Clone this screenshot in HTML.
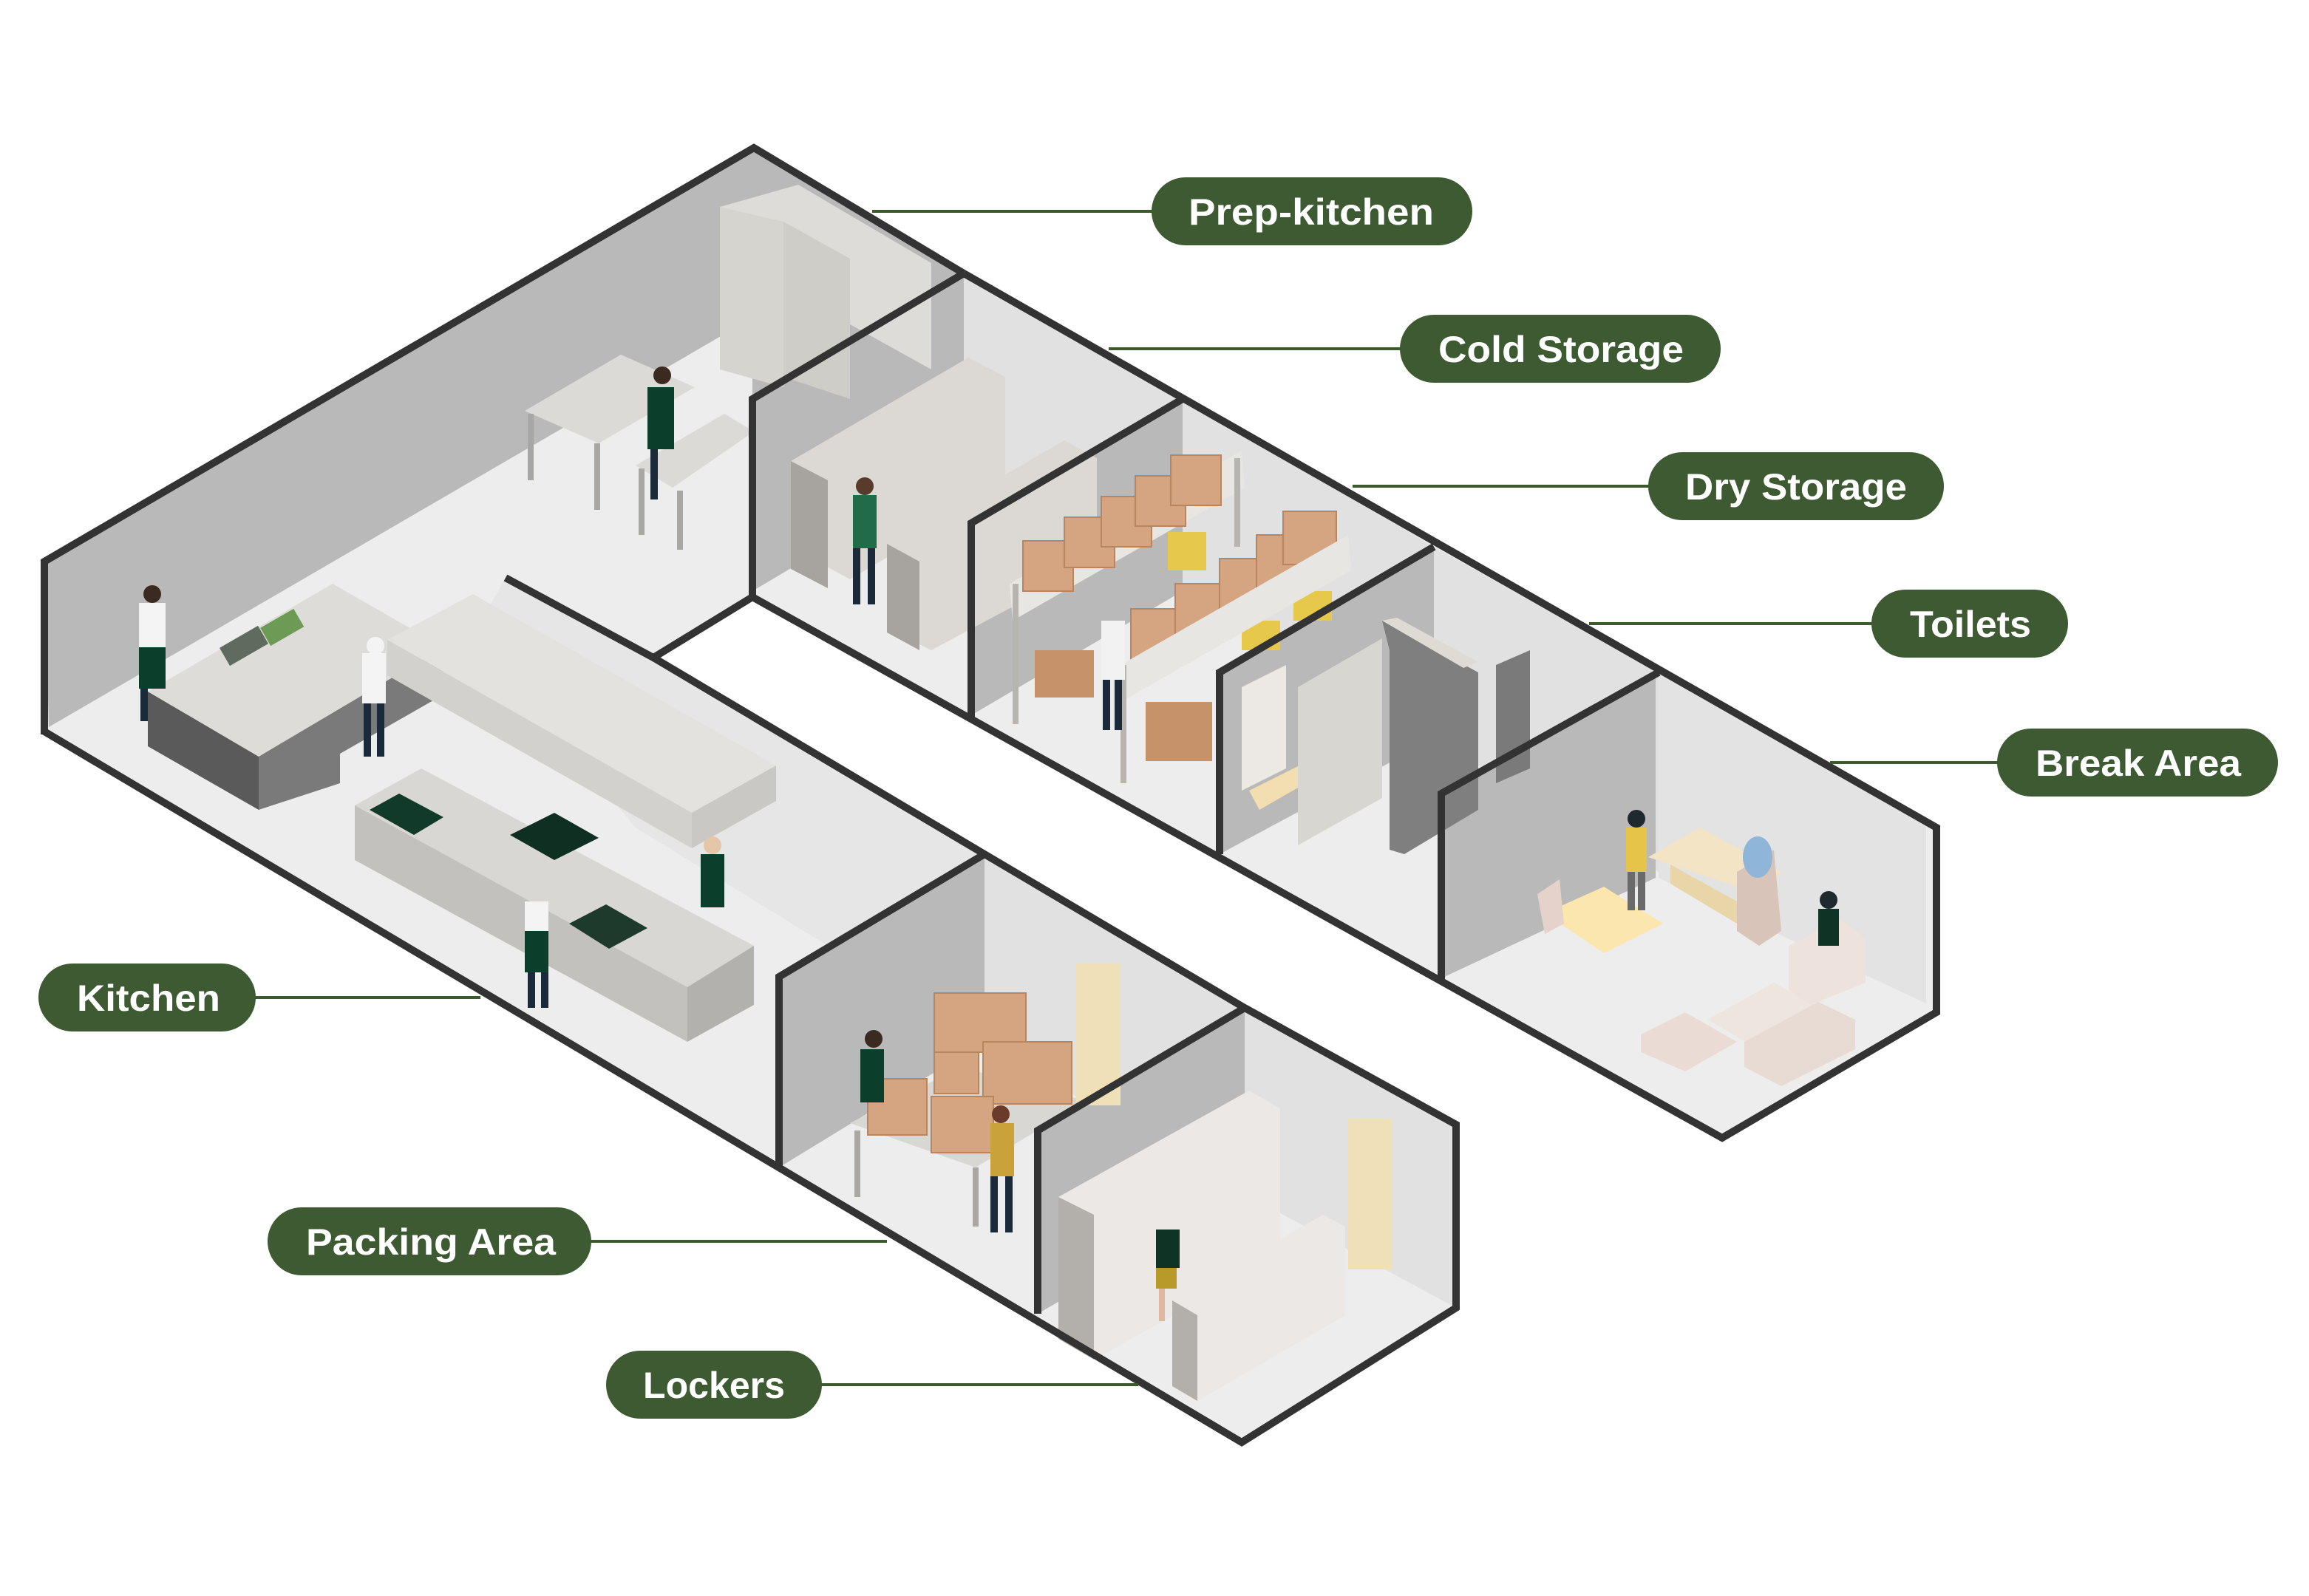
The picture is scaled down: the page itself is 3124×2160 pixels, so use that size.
<!DOCTYPE html>
<html><head><meta charset="utf-8"><style>
html,body{margin:0;padding:0;background:#fff;}
svg{display:block;}
.lbl{font-family:"Liberation Sans",sans-serif;font-weight:bold;font-size:25px;fill:#fff;}
</style></head><body>
<svg width="3124" height="2160" viewBox="0 0 1562 1080" xmlns="http://www.w3.org/2000/svg">
<rect width="1562" height="1080" fill="#fff"/>

<!-- ===== Kitchen wing ===== -->
<polygon points="30,380 510,100 652,185 509,270 509,404 442,445 666,578 842,682 985,761 985,885 840,976 30,495" fill="#ededed"/>
<polygon points="30,380 510,100 652,185 509,270 509,215 33,492" fill="#b9b9b9"/>
<polygon points="342,391 442,445 666,578 560,640 430,560 320,430" fill="#e6e6e6"/>
<polygon points="666,578 842,682 842,810 666,705" fill="#e1e1e1"/>
<polygon points="527,661 666,578 666,705 527,790" fill="#b9b9b9"/>
<polygon points="842,682 985,761 985,885 842,808" fill="#e1e1e1"/>
<polygon points="702,765 842,682 842,808 702,889" fill="#b9b9b9"/>

<!-- ===== Cold wing ===== -->
<polygon points="509,404 509,270 652,185 1310,560 1310,685 1165,770" fill="#ededed"/>
<polygon points="652,185 800,270 800,400 652,315" fill="#e1e1e1"/>
<polygon points="509,270 652,185 652,315 509,400" fill="#b9b9b9"/>
<polygon points="800,270 970,370 970,495 800,400" fill="#e1e1e1"/>
<polygon points="657,354 800,270 800,400 657,484" fill="#b9b9b9"/>
<polygon points="970,370 1122,455 1122,590 970,500" fill="#e1e1e1"/>
<polygon points="825,455 970,370 970,500 825,578" fill="#b9b9b9"/>
<polygon points="1122,455 1303,559 1303,679 1122,594" fill="#e3e3e3"/>
<polygon points="975,537 1120,455 1120,594 975,662" fill="#b9b9b9"/>

<!-- ===== Furniture ===== -->
<!-- prep fridges -->
<polygon points="487,140 540,125 630,178 630,250 540,200 487,215" fill="#dedcd8"/>
<polygon points="487,140 487,250 530,262 530,150" fill="#d6d4cf"/>
<polygon points="530,150 575,175 575,270 530,255" fill="#cfcdc8"/>
<!-- sinks & tables -->
<polygon points="355,278 420,240 470,262 405,300" fill="#dcdad6"/>
<rect x="357" y="280" width="4" height="45" fill="#a9a7a3"/><rect x="402" y="300" width="4" height="45" fill="#a9a7a3"/>
<polygon points="430,315 490,280 510,292 455,330" fill="#dcdad6"/>
<rect x="432" y="317" width="4" height="45" fill="#a9a7a3"/><rect x="458" y="332" width="4" height="40" fill="#a9a7a3"/>
<rect x="438" y="262" width="18" height="42" fill="#0b3f2c"/><circle cx="448" cy="254" r="6" fill="#3b2a20"/><rect x="440" y="304" width="5" height="34" fill="#1b2a3a"/>
<!-- kitchen counter -->
<polygon points="100,468 225,395 300,438 175,512" fill="#dedcd8"/>
<polygon points="100,468 175,512 175,548 100,505" fill="#5a5a5a"/>
<polygon points="175,512 300,438 300,470 230,510 230,530 175,548" fill="#7a7a7a"/>
<rect x="150" y="430" width="30" height="14" fill="#5f6b5e" transform="rotate(-30 165 437)"/>
<rect x="178" y="418" width="26" height="14" fill="#6d9a55" transform="rotate(-30 190 425)"/>
<rect x="94" y="408" width="18" height="30" fill="#f4f4f4"/><rect x="94" y="438" width="18" height="28" fill="#0b3f2c"/><circle cx="103" cy="402" r="6" fill="#3b2a20"/><rect x="95" y="466" width="5" height="22" fill="#1b2a3a"/>
<rect x="245" y="442" width="16" height="34" fill="#f4f4f4"/><circle cx="254" cy="437" r="6" fill="#f4f4f4"/><rect x="246" y="476" width="5" height="36" fill="#1b2a3a"/><rect x="255" y="476" width="5" height="36" fill="#1b2a3a"/>
<!-- hood -->
<polygon points="262,433 320,402 525,518 468,550" fill="#e3e2df"/>
<polygon points="262,433 468,550 468,574 262,457" fill="#d2d1cd"/>
<polygon points="468,550 525,518 525,542 468,574" fill="#c9c8c4"/>
<!-- cooking line -->
<polygon points="240,545 285,520 510,640 465,668" fill="#d8d7d3"/>
<polygon points="240,545 465,668 465,705 240,582" fill="#c2c1bd"/>
<polygon points="465,668 510,640 510,680 465,705" fill="#b2b1ad"/>
<polygon points="250,548 270,537 300,553 280,565" fill="#123a2a"/>
<polygon points="345,565 375,550 405,567 375,582" fill="#0f2f22"/>
<polygon points="385,625 410,612 438,628 412,642" fill="#1e3a2c"/>
<rect x="355" y="610" width="16" height="30" fill="#f4f4f4"/><rect x="355" y="630" width="16" height="28" fill="#0b3f2c"/><rect x="357" y="658" width="5" height="24" fill="#1b2a3a"/><rect x="366" y="658" width="5" height="24" fill="#1b2a3a"/>
<rect x="474" y="578" width="16" height="36" fill="#0b3f2c"/><circle cx="482" cy="572" r="6" fill="#e6c6a8"/>
<!-- cold storage fridges -->
<polygon points="535,312 655,242 680,255 680,330 575,392 535,370" fill="#dcd8d4"/>
<polygon points="535,312 560,325 560,398 535,385" fill="#a7a39e"/>
<polygon points="600,368 720,298 742,310 742,380 630,440 600,425" fill="#dcd8d4"/>
<polygon points="600,368 622,380 622,440 600,428" fill="#a7a39e"/>
<rect x="577" y="335" width="16" height="36" fill="#226b48"/><circle cx="585" cy="329" r="6" fill="#5a3a2a"/><rect x="577" y="371" width="5" height="38" fill="#1b2a3a"/><rect x="587" y="371" width="5" height="38" fill="#1b2a3a"/>
<!-- dry storage -->
<polygon points="683,395 840,305 842,330 685,420" fill="#e8e6e3"/>
<rect x="685" y="395" width="4" height="95" fill="#b8b5b0"/><rect x="835" y="310" width="4" height="60" fill="#b8b5b0"/>
<g fill="#d4a580" stroke="#b9855e" stroke-width="1">
<rect x="692" y="366" width="34" height="34"/><rect x="720" y="350" width="34" height="34"/><rect x="745" y="336" width="34" height="34"/><rect x="768" y="322" width="34" height="34"/><rect x="792" y="308" width="34" height="34"/>
<rect x="765" y="412" width="38" height="36"/><rect x="795" y="395" width="38" height="36"/><rect x="825" y="378" width="38" height="36"/><rect x="850" y="362" width="38" height="36"/><rect x="868" y="346" width="36" height="36"/>
</g>
<g fill="#e6c84a"><rect x="790" y="360" width="26" height="26"/><rect x="840" y="420" width="26" height="20"/><rect x="875" y="400" width="26" height="20"/></g>
<polygon points="758,450 912,362 914,386 760,474" fill="#e8e6e3"/>
<rect x="758" y="450" width="4" height="80" fill="#b8b5b0"/>
<rect x="775" y="475" width="45" height="40" fill="#c6926a"/><rect x="700" y="440" width="40" height="32" fill="#c6926a"/>
<rect x="745" y="420" width="16" height="40" fill="#f2f2f2"/><rect x="746" y="460" width="5" height="34" fill="#1b2a3a"/><rect x="754" y="460" width="5" height="34" fill="#1b2a3a"/>
<!-- toilets -->
<polygon points="840,465 870,450 870,520 840,535" fill="#ece8e4"/>
<polygon points="845,535 885,515 892,525 852,548" fill="#f2deb0"/>
<polygon points="878,465 935,432 935,540 878,572" fill="#d8d6d0"/>
<polygon points="935,420 1000,455 1000,548 950,578 940,575 940,440" fill="#7f7f7f"/>
<polygon points="935,420 990,452 1000,448 945,418" fill="#dedbd5"/>
<polygon points="1012,450 1035,440 1035,520 1012,530" fill="#7a7a7a"/>
<!-- break -->
<polygon points="1045,618 1085,600 1125,625 1085,645" fill="#fbe6ae"/>
<polygon points="1115,580 1150,560 1205,590 1190,605" fill="#f3e4c6"/>
<polygon points="1130,585 1175,610 1175,625 1130,598" fill="#e9d6a8"/>
<polygon points="1175,590 1200,575 1205,630 1190,640 1175,630" fill="#d8c4b8"/>
<ellipse cx="1189" cy="580" rx="10" ry="14" fill="#8fb6d8"/>
<rect x="1100" y="560" width="14" height="30" fill="#e6c44a"/><rect x="1101" y="590" width="5" height="26" fill="#6a6a6a"/><rect x="1108" y="590" width="5" height="26" fill="#6a6a6a"/><circle cx="1107" cy="554" r="6" fill="#1e2a2e"/>
<polygon points="1110,700 1140,685 1175,705 1140,725 1110,712" fill="#eadcd4"/>
<polygon points="1155,690 1200,665 1255,695 1210,722" fill="#efe5df"/>
<polygon points="1180,705 1230,678 1255,690 1255,710 1205,735 1180,722" fill="#e7dbd3"/>
<polygon points="1210,640 1245,622 1262,635 1262,665 1225,680 1210,670" fill="#eee3dc"/>
<rect x="1230" y="615" width="14" height="25" fill="#0f3324"/><circle cx="1237" cy="609" r="6" fill="#1e2a2e"/>
<polygon points="1040,605 1055,595 1058,625 1045,632" fill="#e5d3cb"/>
<!-- packing -->
<polygon points="575,760 650,722 735,745 660,790" fill="#d8d7d3"/>
<rect x="578" y="765" width="4" height="45" fill="#a9a7a3"/><rect x="658" y="790" width="4" height="40" fill="#a9a7a3"/>
<g fill="#d4a580" stroke="#b9855e" stroke-width="1">
<rect x="632" y="672" width="62" height="40"/><rect x="632" y="712" width="30" height="28"/><rect x="665" y="705" width="60" height="42"/>
<rect x="587" y="730" width="40" height="38"/><rect x="630" y="742" width="42" height="38"/>
</g>
<rect x="728" y="652" width="30" height="96" fill="#efe0b8"/>
<rect x="582" y="710" width="16" height="36" fill="#0b3f2c"/><circle cx="591" cy="703" r="6" fill="#3b2a20"/>
<rect x="670" y="760" width="16" height="36" fill="#c9a33a"/><circle cx="677" cy="754" r="6" fill="#6a3a2a"/><rect x="670" y="796" width="5" height="38" fill="#1b2a3a"/><rect x="680" y="796" width="5" height="38" fill="#1b2a3a"/>
<!-- lockers -->
<polygon points="716,810 845,738 866,750 866,850 740,920 716,905" fill="#ece8e5"/>
<polygon points="716,810 740,822 740,920 716,906" fill="#b3afab"/>
<polygon points="793,880 895,822 910,830 910,890 810,948 793,938" fill="#ece8e5"/>
<polygon points="793,880 810,890 810,948 793,938" fill="#b3afab"/>
<rect x="912" y="757" width="30" height="102" fill="#efe0b8"/>
<rect x="782" y="832" width="16" height="26" fill="#0f3324"/><rect x="782" y="858" width="14" height="14" fill="#b89a2a"/><rect x="784" y="872" width="4" height="22" fill="#e0b8a0"/>

<!-- ===== Outlines ===== -->
<g fill="none" stroke="#333" stroke-width="5" stroke-linejoin="miter">
<polyline points="30,497 30,380 510,100 652,185"/>
<polyline points="342,391 442,445 509,404"/>
<polyline points="442,445 666,578 842,682 985,761 985,885 840,976 30,495"/>
<polyline points="527,790 527,661 666,578"/>
<polyline points="702,889 702,765 842,682"/>
<polyline points="652,185 1310,560 1310,685 1165,770 509,404 509,270 652,185"/>
<polyline points="657,487 657,354 800,270"/>
<polyline points="825,578 825,455 970,370"/>
<polyline points="975,665 975,537 1122,455"/>
</g>

<!-- ===== Labels ===== -->
<g stroke="#3d5a2e" stroke-width="2">
<line x1="590" y1="143" x2="782" y2="143"/>
<line x1="750" y1="236" x2="950" y2="236"/>
<line x1="915" y1="329" x2="1118" y2="329"/>
<line x1="1075" y1="422" x2="1269" y2="422"/>
<line x1="1238" y1="516" x2="1354" y2="516"/>
<line x1="170" y1="675" x2="325" y2="675"/>
<line x1="398" y1="840" x2="600" y2="840"/>
<line x1="553" y1="937" x2="770" y2="937"/>
</g>
<g fill="#3d5a33">
<rect x="779" y="120" width="217" height="46" rx="23"/>
<rect x="947" y="213" width="217" height="46" rx="23"/>
<rect x="1115" y="306" width="200" height="46" rx="23"/>
<rect x="1266" y="399" width="133" height="46" rx="23"/>
<rect x="1351" y="493" width="190" height="46" rx="23"/>
<rect x="26" y="652" width="147" height="46" rx="23"/>
<rect x="181" y="817" width="219" height="46" rx="23"/>
<rect x="410" y="914" width="146" height="46" rx="23"/>
</g>
<g class="lbl">
<text x="804" y="152" textLength="166" lengthAdjust="spacingAndGlyphs">Prep-kitchen</text>
<text x="973" y="245" textLength="166" lengthAdjust="spacingAndGlyphs">Cold Storage</text>
<text x="1140" y="338" textLength="150" lengthAdjust="spacingAndGlyphs">Dry Storage</text>
<text x="1292" y="431" textLength="82" lengthAdjust="spacingAndGlyphs">Toilets</text>
<text x="1377" y="525" textLength="139" lengthAdjust="spacingAndGlyphs">Break Area</text>
<text x="52" y="684" textLength="97" lengthAdjust="spacingAndGlyphs">Kitchen</text>
<text x="207" y="849" textLength="169" lengthAdjust="spacingAndGlyphs">Packing Area</text>
<text x="435" y="946" textLength="96" lengthAdjust="spacingAndGlyphs">Lockers</text>
</g>
</svg>
</body></html>
